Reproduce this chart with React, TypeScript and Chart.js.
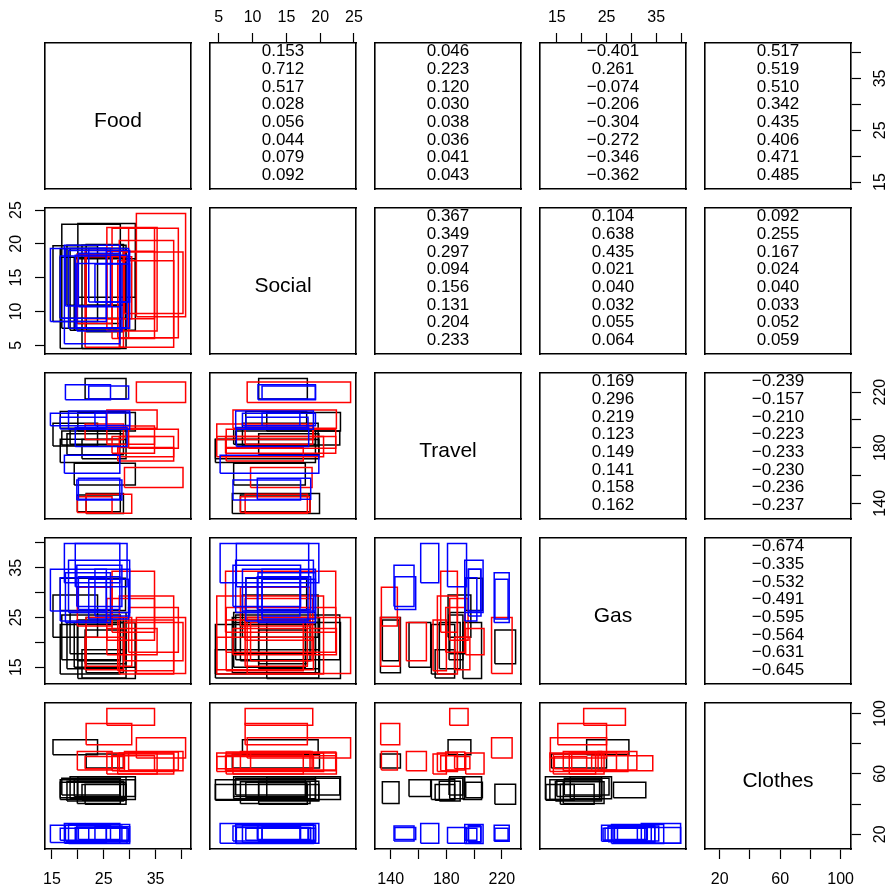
import React, { useEffect, useRef } from 'react';
import { Chart, registerables } from 'chart.js';

Chart.register(...registerables);

type Iv = [number, number];

const VARIABLES = ['Food', 'Social', 'Travel', 'Gas', 'Clothes'];

// ---- interval data (lo, hi) per observation, grouped ----
const blackFood: Iv[] = [[21.6, 28.8], [15.2, 23.8], [19.9, 28.2], [19.3, 31.1], [16.6, 28.1], [20.8, 29.3], [17.9, 28.8], [18.5, 29.3], [20.0, 31.1], [16.6, 29.2], [21.4, 29.3], [16.9, 28.2]];
const blackSocial: Iv[] = [[7.0, 19.9], [8.5, 19.7], [8.2, 18.5], [7.2, 17.8], [4.5, 19.3], [4.5, 19.8], [10.9, 19.8], [7.2, 19.3], [12.1, 23.0], [9.0, 18.0], [10.9, 18.1], [7.5, 22.9]];
const blackTravel: Iv[] = [[132.6, 147.0], [181.3, 197.7], [134.0, 146.0], [153.2, 168.8], [169.3, 186.1], [172.0, 186.0], [175.0, 190.0], [182.5, 193.3], [192.0, 205.4], [194.0, 206.0], [215.0, 229.9], [182.0, 192.0]];
const blackGas: Iv[] = [[13.9, 25.0], [21.0, 29.5], [16.3, 24.5], [15.0, 24.0], [13.6, 23.6], [12.8, 18.5], [14.7, 24.0], [17.7, 26.0], [12.7, 24.0], [26.4, 32.9], [15.7, 22.5], [16.5, 25.5]];
const blackClothes: Iv[] = [[63.8, 73.1], [72.6, 82.6], [40.4, 54.8], [45.0, 56.0], [43.0, 56.0], [42.5, 53.0], [42.0, 55.0], [43.5, 58.0], [43.0, 58.0], [44.2, 54.4], [39.8, 53.1], [46.0, 57.0]];

const redFood: Iv[] = [[25.6, 34.8], [21.6, 30.4], [31.3, 40.8], [19.9, 26.6], [29.0, 40.3], [27.7, 38.5], [28.0, 38.5], [29.8, 39.4], [25.6, 35.3], [21.4, 28.8], [26.6, 34.8]];
const redSocial: Iv[] = [[8.9, 18.9], [8.9, 18.1], [9.2, 24.5], [8.2, 18.5], [9.7, 18.8], [6.1, 17.5], [4.7, 20.5], [6.1, 22.3], [7.1, 22.4], [4.7, 19.0], [6.0, 22.3]];
const redTravel: Iv[] = [[182.5, 195.7], [132.8, 146.5], [212.6, 227.4], [133.3, 144.8], [151.3, 165.7], [170.5, 180.1], [173.6, 188.0], [179.6, 193.3], [194.0, 207.2], [186.0, 197.0], [176.0, 188.0]];
const redGas: Iv[] = [[20.4, 28.8], [15.2, 25.0], [13.7, 25.0], [23.3, 31.1], [16.3, 24.0], [14.3, 24.5], [13.6, 29.3], [18.0, 27.0], [17.5, 22.8], [14.5, 21.0], [22.0, 34.3]];
const redClothes: Iv[] = [[92.2, 103.3], [79.3, 93.3], [70.4, 83.8], [62.6, 74.8], [62.0, 74.8], [59.8, 73.1], [61.5, 73.8], [62.6, 74.5], [59.8, 73.8], [63.3, 71.5], [62.0, 72.0]];

const blueFood: Iv[] = [[19.8, 28.5], [20.1, 28.1], [17.4, 28.1], [19.5, 29.5], [18.2, 30.0], [23.3, 30.0], [14.7, 25.5], [16.6, 25.5], [17.6, 26.3], [22.1, 29.8]];
const blueSocial: Iv[] = [[7.1, 17.1], [10.7, 18.6], [5.2, 19.8], [7.6, 18.3], [7.5, 19.0], [11.4, 17.0], [8.5, 19.3], [9.0, 18.2], [10.8, 19.3], [11.4, 19.3]];
const blueTravel: Iv[] = [[142.4, 156.8], [143.0, 158.0], [161.6, 174.6], [180.9, 194.6], [193.3, 206.5], [196.0, 205.0], [195.9, 204.8], [193.5, 202.0], [214.5, 225.3], [215.0, 224.5]];
const blueGas: Iv[] = [[27.2, 35.5], [26.6, 33.2], [32.0, 39.9], [31.2, 39.9], [26.0, 36.5], [25.3, 34.7], [26.3, 34.7], [24.3, 33.0], [24.0, 34.0], [24.7, 32.7]];
const blueClothes: Iv[] = [[15.5, 25.5], [16.5, 24.5], [14.0, 27.1], [14.0, 24.4], [13.8, 26.4], [15.0, 25.0], [14.5, 26.0], [16.0, 24.0], [15.3, 26.0], [16.0, 24.0]];

// ---- axis ticks ----
const TICK_STEPS = [5, 5, 20, 5, 20];
const TICK_LABELS = [[15, 25, 35], [5, 10, 15, 20, 25], [140, 180, 220], [15, 25, 35], [20, 60, 100]];

// ---- upper panel correlation texts ----
const corrFoodSocial = ['0.153', '0.712', '0.517', '0.028', '0.056', '0.044', '0.079', '0.092'];
const corrFoodTravel = ['0.046', '0.223', '0.120', '0.030', '0.038', '0.036', '0.041', '0.043'];
const corrFoodGas = ['\u22120.401', '0.261', '\u22120.074', '\u22120.206', '\u22120.304', '\u22120.272', '\u22120.346', '\u22120.362'];
const corrFoodClothes = ['0.517', '0.519', '0.510', '0.342', '0.435', '0.406', '0.471', '0.485'];
const corrSocialTravel = ['0.367', '0.349', '0.297', '0.094', '0.156', '0.131', '0.204', '0.233'];
const corrSocialGas = ['0.104', '0.638', '0.435', '0.021', '0.040', '0.032', '0.055', '0.064'];
const corrSocialClothes = ['0.092', '0.255', '0.167', '0.024', '0.040', '0.033', '0.052', '0.059'];
const corrTravelGas = ['0.169', '0.296', '0.219', '0.123', '0.149', '0.141', '0.158', '0.162'];
const corrTravelClothes = ['\u22120.239', '\u22120.157', '\u22120.210', '\u22120.223', '\u22120.233', '\u22120.230', '\u22120.236', '\u22120.237'];
const corrGasClothes = ['\u22120.674', '\u22120.335', '\u22120.532', '\u22120.491', '\u22120.595', '\u22120.564', '\u22120.631', '\u22120.645'];

const UPPER_TEXT: Record<string, string[]> = {
  '0-1': corrFoodSocial, '0-2': corrFoodTravel, '0-3': corrFoodGas, '0-4': corrFoodClothes,
  '1-2': corrSocialTravel, '1-3': corrSocialGas, '1-4': corrSocialClothes,
  '2-3': corrTravelGas, '2-4': corrTravelClothes,
  '3-4': corrGasClothes,
};

const GROUPS = [
  { color: '#000000', order: 3, vars: [blackFood, blackSocial, blackTravel, blackGas, blackClothes] },
  { color: '#FF0000', order: 2, vars: [redFood, redSocial, redTravel, redGas, redClothes] },
  { color: '#0000FF', order: 1, vars: [blueFood, blueSocial, blueTravel, blueGas, blueClothes] },
];

const RANGES: Iv[] = VARIABLES.map((_, v) => {
  let lo = Infinity;
  let hi = -Infinity;
  GROUPS.forEach((g) => g.vars[v].forEach(([a, b]) => { lo = Math.min(lo, a); hi = Math.max(hi, b); }));
  const pad = 0.04 * (hi - lo);
  return [lo - pad, hi + pad] as Iv;
});

// ---- layout ----
const FONT = "'Liberation Sans', Arial, Helvetica, sans-serif";
const TICK_SIZE = 16;
const CORR_SIZE = 17;
const DIAG_SIZE = 21;
const M = 45;
const PANEL = 146;
const PITCH = 165;
const LEFT0 = 45;
const TOP0 = 43;
const TICK_LEN = 10;

function textWidth(s: string, size: number): number {
  const c = document.createElement('canvas').getContext('2d');
  if (!c) return s.length * size * 0.556;
  c.font = `${size}px ${FONT}`;
  return c.measureText(s).width;
}

function axisOptions(v: number, position: 'top' | 'bottom' | 'left' | 'right', show: boolean) {
  const [min, max] = RANGES[v];
  const vertical = position === 'left' || position === 'right';
  const labels = TICK_LABELS[v];
  let padding = 0;
  if (show) {
    if (position === 'bottom') padding = 11;
    else if (position === 'top') padding = 6;
    else {
      const widest = Math.max(...labels.map((l) => textWidth(String(l), TICK_SIZE)));
      const dist = position === 'left' ? 28.3 : 29.8;
      padding = dist - TICK_LEN - widest / 2;
    }
  }
  return {
    type: 'linear' as const,
    position,
    min,
    max,
    display: true,
    afterFit: (s: any) => {
      if (vertical) s.width = M; else s.height = M;
    },
    border: { display: true, color: '#000000', width: 1.6 },
    grid: {
      display: show,
      drawOnChartArea: false,
      drawTicks: true,
      tickLength: TICK_LEN,
      tickColor: '#000000',
      tickWidth: 1.2,
      color: '#000000',
    },
    ticks: {
      display: show,
      stepSize: TICK_STEPS[v],
      includeBounds: false,
      autoSkip: false,
      minRotation: vertical ? 90 : 0,
      maxRotation: vertical ? 90 : 0,
      crossAlign: vertical ? ('center' as const) : ('near' as const),
      padding,
      color: '#000000',
      font: { family: FONT, size: TICK_SIZE },
      callback: (val: any) => {
        const n = Number(val);
        const hit = labels.find((l) => Math.abs(l - n) < 1e-6);
        return hit === undefined ? '' : String(hit);
      },
    },
  };
}

function Panel({ r, c }: { r: number; c: number }) {
  const ref = useRef<HTMLCanvasElement | null>(null);

  useEffect(() => {
    const canvas = ref.current;
    if (!canvas) return;
    const datasets: any[] = [];
    if (r > c) {
      GROUPS.forEach((g) => {
        const xs = g.vars[c];
        const ys = g.vars[r];
        xs.forEach((xi, i) => {
          const yi = ys[i];
          datasets.push({
            data: [
              { x: xi[0], y: yi[0] },
              { x: xi[1], y: yi[0] },
              { x: xi[1], y: yi[1] },
              { x: xi[0], y: yi[1] },
              { x: xi[0], y: yi[0] },
            ],
            showLine: true,
            borderColor: g.color,
            backgroundColor: g.color,
            borderWidth: 1.5,
            borderJoinStyle: 'miter',
            pointRadius: 0,
            pointHoverRadius: 0,
            fill: false,
            tension: 0,
            order: g.order,
          });
        });
      });
    }

    const textPlugin = {
      id: 'panelText',
      afterDraw(chart: any) {
        const { ctx, chartArea } = chart;
        const { left, right, top, bottom } = chartArea;
        const cx = (left + right) / 2;
        ctx.save();
        ctx.fillStyle = '#000000';
        ctx.textAlign = 'center';
        ctx.textBaseline = 'middle';
        if (r === c) {
          ctx.font = `${DIAG_SIZE}px ${FONT}`;
          ctx.fillText(VARIABLES[r], cx, (top + bottom) / 2 + 5);
        } else if (r < c) {
          const lines = UPPER_TEXT[`${r}-${c}`] || [];
          ctx.font = `${CORR_SIZE}px ${FONT}`;
          lines.forEach((s, i) => {
            ctx.fillText(s, cx, top + 8.5 + 17.7 * i);
          });
        }
        ctx.restore();
      },
    };

    const chart = new Chart(canvas, {
      type: 'scatter',
      data: { datasets },
      options: {
        responsive: false,
        animation: false,
        events: [],
        layout: { padding: 0 },
        plugins: {
          legend: { display: false },
          tooltip: { enabled: false },
          title: { display: false },
        },
        scales: {
          x: axisOptions(c, 'bottom', r === 4 && c % 2 === 0),
          x2: axisOptions(c, 'top', r === 0 && c % 2 === 1),
          y: axisOptions(r, 'left', c === 0 && r % 2 === 1),
          y2: axisOptions(r, 'right', c === 4 && r % 2 === 0),
        } as any,
      },
      plugins: [textPlugin],
    });
    return () => chart.destroy();
  }, [r, c]);

  const size = PANEL + 2 * M;
  return (
    <canvas
      ref={ref}
      width={size}
      height={size}
      style={{
        position: 'absolute',
        left: LEFT0 + PITCH * c - M,
        top: TOP0 + PITCH * r - M,
        width: size,
        height: size,
      }}
    />
  );
}

export default function App() {
  const cells: React.ReactNode[] = [];
  for (let r = 0; r < 5; r++) {
    for (let c = 0; c < 5; c++) {
      cells.push(<Panel key={`${r}-${c}`} r={r} c={c} />);
    }
  }
  return (
    <div
      style={{
        position: 'fixed',
        left: 0,
        top: 0,
        width: 891,
        height: 891,
        background: '#ffffff',
        overflow: 'hidden',
      }}
    >
      {cells}
    </div>
  );
}
